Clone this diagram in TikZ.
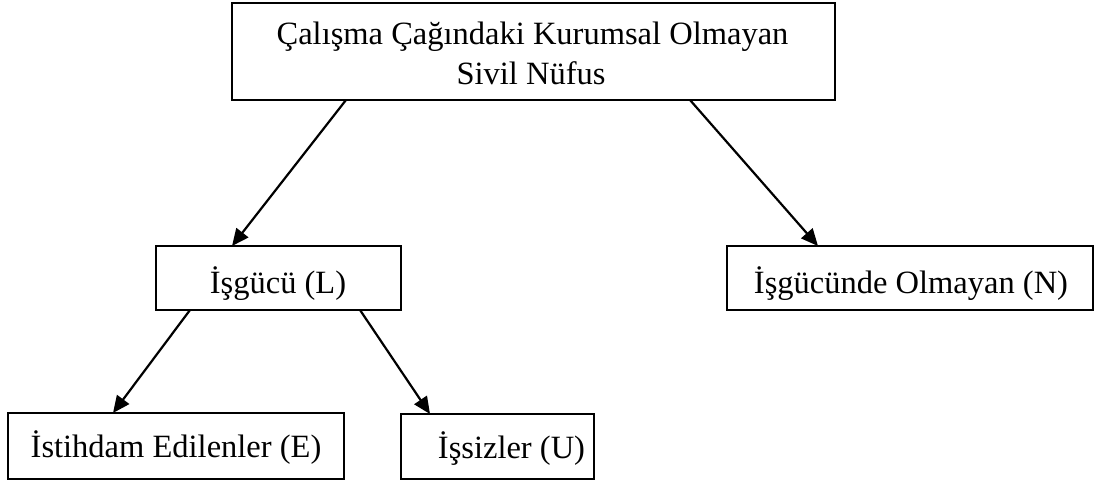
\documentclass[tikz,border=0pt]{standalone}
\usepackage{fontspec}
\setmainfont{Liberation Serif}
\usetikzlibrary{arrows.meta}
\begin{document}
\begin{tikzpicture}[x=1pt,y=-1pt,
  box/.style={draw, line width=2.2pt, inner sep=0pt, outer sep=0pt},
  lbl/.style={anchor=base, inner sep=0pt, font=\fontsize{32.5}{40}\selectfont},
  arr/.style={line width=2.2pt, -{Triangle[length=17pt,width=15pt]}}]
\useasboundingbox (0,0) rectangle (1094,481);
\node[box, minimum width=603pt, minimum height=97pt] (top) at (533.5,51.5) {};
\node[lbl] (t1) at (532.5,45) {Çalışma Çağındaki Kurumsal Olmayan};
\node[lbl] (t2) at (531,85) {Sivil Nüfus};
\node[box, minimum width=245pt, minimum height=64pt] (L) at (278.5,278) {};
\node[lbl] (Lt) at (278,293) {İşgücü (L)};
\node[box, minimum width=366pt, minimum height=64pt] (N) at (910,278) {};
\node[lbl] (Nt) at (911,293) {İşgücünde Olmayan (N)};
\node[box, minimum width=336pt, minimum height=66pt] (E) at (176,446) {};
\node[lbl] (Et) at (176,457) {İstihdam Edilenler (E)};
\node[box, minimum width=193pt, minimum height=65pt] (U) at (497.5,446.5) {};
\node[lbl] (Ut) at (511.5,458) {İşsizler (U)};
\draw[arr] (346,0 |- top.south) -- (232,0 |- L.north);
\draw[arr] (690,0 |- top.south) -- (818,0 |- N.north);
\draw[arr] (190,0 |- L.south) -- (113,0 |- E.north);
\draw[arr] (360,0 |- L.south) -- (430,0 |- U.north);
\end{tikzpicture}
\end{document}
